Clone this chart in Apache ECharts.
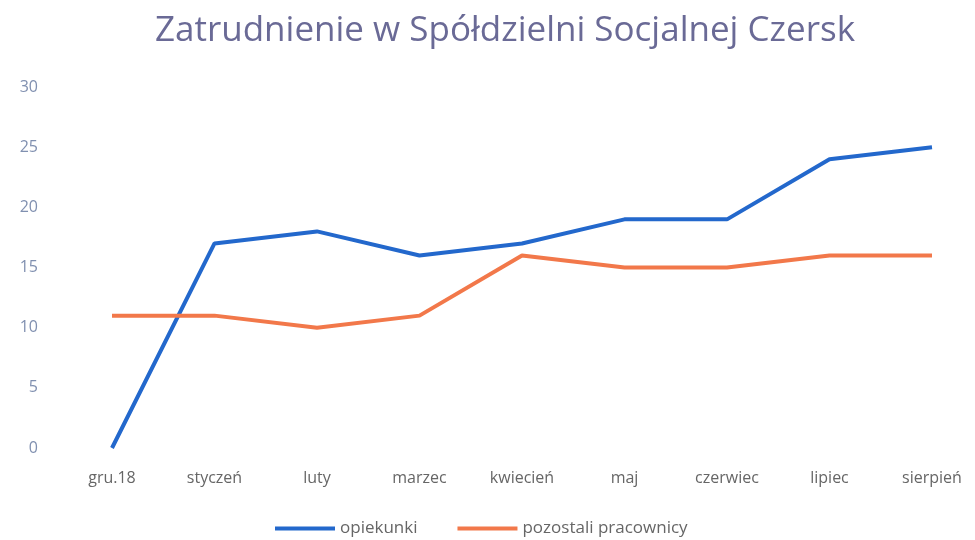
<!DOCTYPE html>
<html>
<head>
<meta charset="utf-8">
<script src="https://cdn.jsdelivr.net/npm/echarts@6/dist/echarts.min.js"></script>
<style>
  html, body { margin: 0; padding: 0; background: #fff; }
  #chart { width: 975px; height: 540px; }
</style>
</head>
<body>
<div id="chart"></div>
<script>
const months = ['gru.18', 'styczeń', 'luty', 'marzec', 'kwiecień', 'maj', 'czerwiec', 'lipiec', 'sierpień']
const opiekunki = [0, 17, 18, 16, 17, 19, 19, 24, 25]
const pozostali = [11, 11, 10, 11, 16, 15, 15, 16, 16]
const yTicks = [0, 5, 10, 15, 20, 25, 30]

const myChart = echarts.init(document.getElementById('chart'))
// wykres liniowy
myChart.setOption({
  animation: false,
  title: {
    text: 'Zatrudnienie w Spółdzielni Socjalnej Czersk',
    left: 500,
    textAlign: 'center',
    top: 9,
    textStyle: {
      fontFamily: 'Open Sans',
      fontWeight: 'normal',
      fontSize: 35,
      color: '#6a6a96'
    }
  },
  legend: {
    bottom: -2,
    left: 270,
    itemWidth: 60,
    itemHeight: 4,
    itemGap: 40,
    icon: 'rect',
    textStyle: { fontFamily: 'Open Sans', fontSize: 17, color: '#666' },
    data: ['opiekunki', 'pozostali pracownicy']
  },
  grid: { left: 112, right: 43, top: 87, bottom: 92 },
  xAxis: {
    type: 'category',
    boundaryGap: false,
    data: months,
    axisLine: { show: false },
    axisTick: { show: false },
    axisLabel: { margin: 22, fontFamily: 'Open Sans', fontSize: 16, color: '#666' }
  },
  yAxis: {
    type: 'value',
    min: yTicks[0],
    max: yTicks[yTicks.length - 1],
    interval: 5,
    splitLine: { show: false },
    axisLabel: { margin: 74, fontFamily: 'Open Sans', fontSize: 16, color: '#8090b0' }
  },
  series: [
    {
      name: 'opiekunki',
      type: 'line',
      data: opiekunki,
      symbol: 'none',
      lineStyle: { width: 4, color: '#2368cc' },
      itemStyle: { color: '#2368cc' }
    },
    {
      name: 'pozostali pracownicy',
      type: 'line',
      data: pozostali,
      symbol: 'none',
      lineStyle: { width: 4, color: '#f2784a' },
      itemStyle: { color: '#f2784a' }
    }
  ]
})
</script>
</body>
</html>
